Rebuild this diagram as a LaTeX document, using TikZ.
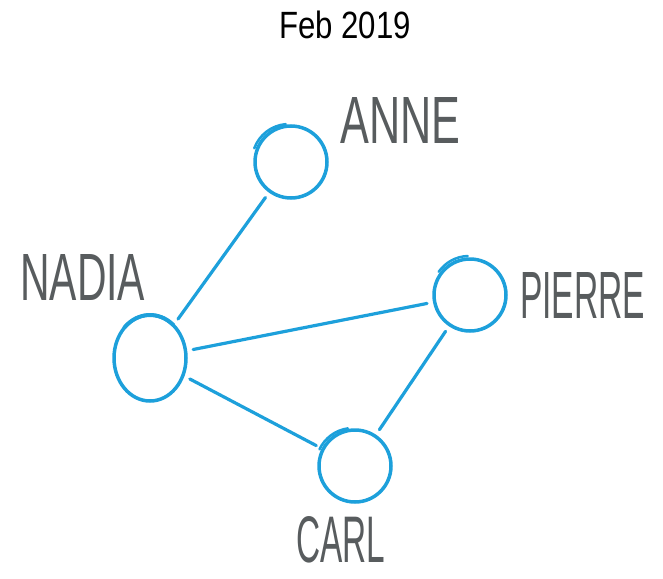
\documentclass[tikz,border=0pt]{standalone}
\usepackage{fontspec}
\setmainfont{Liberation Sans}
\usepackage{xcolor}
\usetikzlibrary{shapes.geometric}

\definecolor{lineblue}{RGB}{29,160,219}
\definecolor{namegray}{RGB}{88,92,94}

% name text squeezed to the hand lettering size
\newcommand{\pname}[2]{\resizebox{#1pt}{46pt}{#2}}

\begin{document}
\begin{tikzpicture}[x=1pt, y=-1pt,
    person/.style={circle, draw=lineblue, line width=3.5pt, minimum size=72pt, inner sep=0pt},
    link/.style={draw=lineblue, line width=3.2pt, line cap=round, shorten <=6pt, shorten >=6pt},
    overlap/.style={draw=lineblue, line width=2.5pt, line cap=round},
    label/.style={text=namegray, anchor=base west, inner sep=0pt, font=\fontsize{24}{24}\selectfont}]
        \useasboundingbox (0,0) rectangle (663,578);

        % title
        \node[anchor=base, inner sep=0pt, font=\fontsize{38}{38}\selectfont] (title) at (345,38)
            {\scalebox{0.82}[1]{Feb 2019}};

        % people
        \node[person] (anne) at (291,162) {};
        \node[person] (pierre) at (470,295) {};
        \node[person] (carl) at (355,466) {};
        \node[person, ellipse, minimum width=72pt, minimum height=86pt] (nadia) at (150,358) {};

        % hand drawn overlap strokes
        \draw[overlap] ([shift={(-2,-1)}]anne.center) ++(200:37) arc (200:265:37);
        \draw[overlap] ([shift={(-1,-2)}]pierre.center) ++(215:37) arc (215:268:37);
        \draw[overlap] ([shift={(-2,-1)}]carl.center) ++(205:37) arc (205:262:37);
        \draw[overlap, line width=4pt] ([shift={(0,-1)}]nadia.center) ++(225:36 and 42)
            arc[start angle=225, end angle=310, x radius=36, y radius=42];

        % names
        \node[label] (anne-l) at (340,143) {\pname{120}{ANNE}};
        \node[label] (nadia-l) at (20,300) {\pname{125}{NADIA}};
        \node[label] (pierre-l) at (520,318) {\pname{125}{PIERRE}};
        \node[label] (carl-l) at (296,562) {\pname{89}{CARL}};

        % links
        \draw[link] (anne) -- (nadia);
        \draw[link] (nadia) -- (pierre);
        \draw[link] (nadia) -- (carl);
        \draw[link] (pierre) -- (carl);
\end{tikzpicture}
\end{document}
